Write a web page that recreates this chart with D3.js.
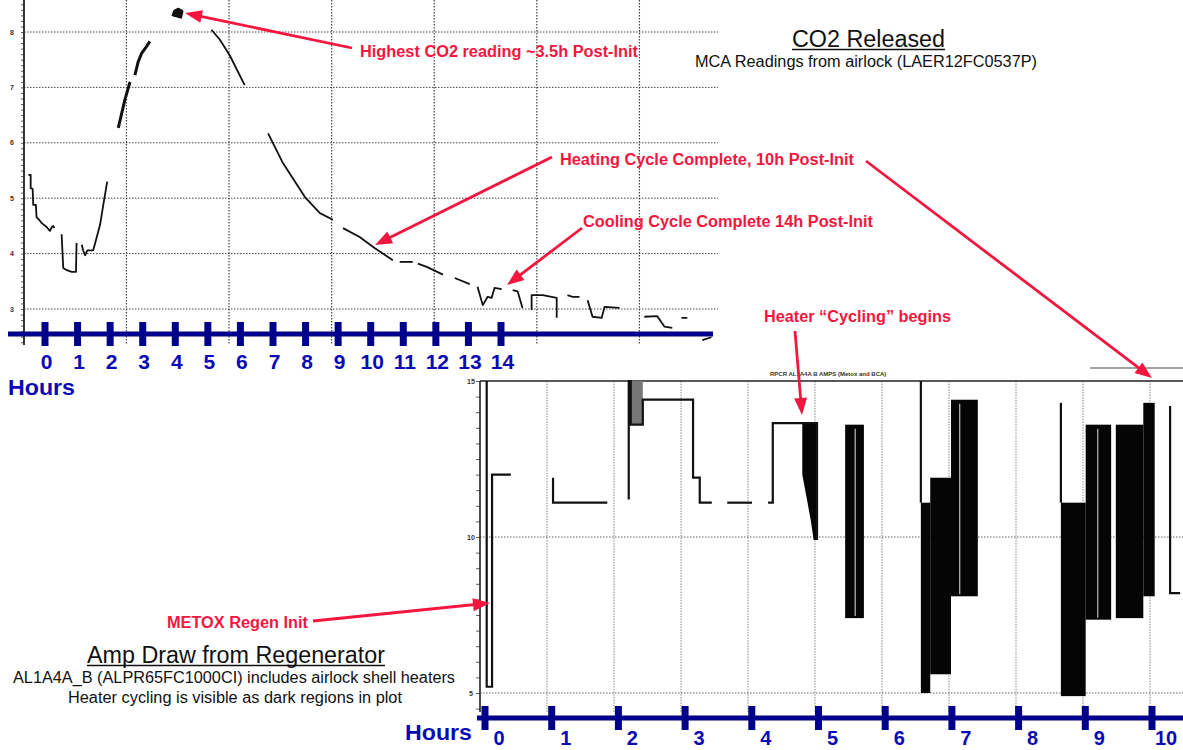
<!DOCTYPE html>
<html><head><meta charset="utf-8">
<script src="https://cdn.jsdelivr.net/npm/d3@7"></script>
<style>body{margin:0;background:#fff}svg{display:block;font-family:"Liberation Sans",Arial,sans-serif}</style>
</head><body><svg id="c" width="1183" height="750"></svg>
<script>
// ---------- DATA: CO2 (top chart), x = hours post-init, y = CO2 reading ----------
const co2Segments = [
  [[-0.51,5.42],[-0.44,5.42],[-0.44,5.18],[-0.38,5.17],[-0.36,4.88],[-0.28,4.88],[-0.26,4.66],[-0.18,4.61],[-0.10,4.55],[0.05,4.48],[0.15,4.41],[0.21,4.48],[0.25,4.50],[0.29,4.46]],
  [[0.51,4.35],[0.56,3.74],[0.67,3.70],[0.82,3.67],[0.95,3.67],[0.97,4.19]],
  [[1.13,4.16],[1.17,4.06],[1.23,3.97],[1.30,4.06],[1.48,4.06],[1.59,4.30],[1.69,4.52],[1.79,4.88],[1.91,5.30]],
  [[5.11,8.04],[5.37,7.86],[5.67,7.58],[6.13,7.04]],
  [[6.85,6.17],[7.31,5.63],[7.98,5.02],[8.44,4.73],[8.84,4.61]],
  [[9.15,4.46],[9.66,4.30],[10.12,4.10],[10.68,3.88]],
  [[10.89,3.85],[11.29,3.85]],
  [[11.45,3.82],[11.72,3.76],[12.22,3.62]],
  [[12.58,3.56],[13.04,3.45]],
  [[13.28,3.40],[13.44,3.07],[13.59,3.22],[13.71,3.20],[13.80,3.38],[14.02,3.36]],
  [[14.36,3.34],[14.51,3.32],[14.66,3.02]],
  [[14.94,2.98],[14.94,3.25],[15.28,3.25],[15.71,3.20],[15.71,2.84]],
  [[16.04,3.25],[16.20,3.22],[16.41,3.22]],
  [[16.66,3.16],[16.81,2.86],[17.09,2.84],[17.18,3.04],[17.64,3.02]],
  [[18.40,2.86],[18.80,2.87],[19.02,2.68],[19.26,2.66]],
  [[19.54,2.84],[19.72,2.84]],
  [[20.18,2.44],[20.46,2.49]]
];
const co2BoldSegments = [
  [[2.25,6.27],[2.45,6.77],[2.61,7.10]],
  [[2.76,7.22],[2.86,7.46],[2.97,7.62],[3.12,7.74],[3.22,7.83]]
];
const co2Peak = [[3.94,8.28],[3.99,8.37],[4.09,8.40],[4.19,8.37],[4.14,8.25]];
const co2ValueTicks = [3,4,5,6,7,8];
const co2GridHours = [2.5,5.65,8.8,11.95,15.1,18.25];
const co2HourLabels = [0,1,2,3,4,5,6,7,8,9,10,11,12,13,14];

// ---------- DATA: Amp draw (bottom chart), x = hours, y = amps ----------
const ampSegments = [
  [[0.10,15.0],[0.10,5.2],[0.18,5.2],[0.18,12.0],[0.46,12.0]],
  [[1.09,11.9],[1.09,11.1],[1.90,11.1]],
  [[2.22,11.2],[2.22,15.0],[2.25,15.0],[2.25,13.6],[2.43,13.6],[2.43,14.4],[3.18,14.4],[3.18,11.9],[3.28,11.9],[3.28,11.1],[3.46,11.1]],
  [[3.69,11.1],[4.06,11.1]],
  [[4.30,11.1],[4.37,11.1],[4.37,13.65],[5.03,13.65],[5.03,9.9]],
  [[6.58,15.0],[6.58,11.1]],
  [[8.67,14.3],[8.67,11.1]],
  [[10.30,14.2],[10.30,8.2],[10.45,8.2]]
];
const ampGreyBands = [[2.25,2.43,15.0,13.6]];
const ampCyclingEnvelope = [[4.81,13.65,12.0],[4.88,13.65,11.2],[4.94,13.65,10.5],[4.98,13.65,9.9],[5.03,13.65,9.9]];
const ampCyclingBands = [
  [5.45,5.73,13.6,7.4],
  [6.58,6.72,11.1,5.0],
  [6.72,7.03,11.9,5.6],
  [7.03,7.43,14.4,8.1],
  [8.67,9.04,11.1,4.9],
  [9.04,9.42,13.6,7.35],
  [9.49,9.90,13.6,7.4],
  [9.90,10.07,14.3,8.1]
];
const ampGapHours = [5.6,7.16,9.22];
const ampValueLabels = [5,10,15];
const ampGridValues = [5,10];
const ampGridHours = [1,2,3,4,5,6,7,8,9,10];
const ampHourLabels = [0,1,2,3,4,5,6,7,8,9,10];

// ---------- DRAW ----------
const svg = d3.select('#c');
const RED = '#f3173f', NAVY = '#00008a', BLUE = '#0a0ab4';

// scales
const xTop = d3.scaleLinear().domain([0,14]).range([45,501]);
const yTop = d3.scaleLinear().domain([3,8]).range([309,32]);
const xBot = d3.scaleLinear().domain([0,10]).range([480,1150]);
const yBot = d3.scaleLinear().domain([5,15]).range([693,381]);
const xBotAxis = d3.scaleLinear().domain([0,10]).range([485,1152]);

// ===== top chart =====
const gTop = svg.append('g');
gTop.selectAll('.hg').data(co2ValueTicks).join('line')
  .attr('x1',24).attr('x2',718).attr('y1',d=>yTop(d)).attr('y2',d=>yTop(d))
  .attr('stroke','#444').attr('stroke-width',1).attr('stroke-dasharray','1.5,1.5');
gTop.selectAll('.vg').data(co2GridHours).join('line')
  .attr('x1',d=>xTop(d)).attr('x2',d=>xTop(d)).attr('y1',0).attr('y2',344)
  .attr('stroke','#444').attr('stroke-width',1.2).attr('stroke-dasharray','1.5,1.5');
const yAxTop = d3.axisLeft(yTop).tickValues(d3.range(24,86).map(d=>d/10)).tickSize(3).tickFormat('');
const gya = gTop.append('g').attr('transform','translate(24,0)').call(yAxTop);
gya.select('.domain').remove();
gya.selectAll('line').attr('stroke','#333').attr('stroke-width',0.8);
gTop.append('line').attr('x1',24).attr('x2',24).attr('y1',yTop(8.6)).attr('y2',yTop(2.35)).attr('stroke','#222').attr('stroke-width',1.8);
gTop.selectAll('.yl').data(co2ValueTicks).join('text')
  .attr('x',12).attr('y',d=>yTop(d)+2.5).attr('text-anchor','middle')
  .attr('font-size',7).attr('font-weight','bold').attr('fill','#333').text(d=>d);
const lineTop = d3.line().x(d=>xTop(d[0])).y(d=>yTop(d[1]));
gTop.selectAll('.seg').data(co2Segments).join('path')
  .attr('d',lineTop).attr('fill','none').attr('stroke','#111').attr('stroke-width',1.8).attr('stroke-linejoin','round');
gTop.selectAll('.bseg').data(co2BoldSegments).join('path')
  .attr('d',lineTop).attr('fill','none').attr('stroke','#111').attr('stroke-width',3).attr('stroke-linejoin','round');
gTop.append('path').datum(co2Peak).attr('d',lineTop).attr('fill','#111').attr('stroke','#111').attr('stroke-width',4).attr('stroke-linejoin','round');

// blue hours axis (top)
const AY1 = 334;
gTop.append('line').attr('x1',8).attr('x2',713).attr('y1',AY1).attr('y2',AY1).attr('stroke',NAVY).attr('stroke-width',5);
gTop.selectAll('.bt').data(co2HourLabels).join('line')
  .attr('x1',d=>xTop(d)).attr('x2',d=>xTop(d)).attr('y1',AY1-12).attr('y2',AY1+12)
  .attr('stroke',NAVY).attr('stroke-width',7);
gTop.selectAll('.bl').data(co2HourLabels).join('text')
  .attr('x',d=>xTop(d)+1.5).attr('y',369).attr('text-anchor','middle')
  .attr('font-size',21).attr('font-weight','bold').attr('fill',BLUE).text(d=>d);
svg.append('text').attr('x',8).attr('y',395).attr('font-size',22).attr('font-weight','bold').attr('fill',BLUE)
  .attr('textLength',67).attr('lengthAdjust','spacingAndGlyphs').text('Hours');

// ===== bottom chart =====
const gBot = svg.append('g');
gBot.selectAll('.vg').data(ampGridHours).join('line')
  .attr('x1',d=>xBot(d)).attr('x2',d=>xBot(d)).attr('y1',381).attr('y2',712)
  .attr('stroke','#888').attr('stroke-width',1).attr('stroke-dasharray','1.5,1.2');
gBot.selectAll('.hg').data(ampGridValues).join('line')
  .attr('x1',480).attr('x2',1183).attr('y1',d=>yBot(d)).attr('y2',d=>yBot(d))
  .attr('stroke','#666').attr('stroke-width',1).attr('stroke-dasharray','1.5,1.5');
gBot.append('line').attr('x1',480).attr('x2',1183).attr('y1',yBot(15)).attr('y2',yBot(15)).attr('stroke','#222').attr('stroke-width',1.5);
gBot.append('line').attr('x1',1090).attr('x2',1183).attr('y1',368).attr('y2',368).attr('stroke','#444').attr('stroke-width',1);
gBot.append('text').attr('x',770).attr('y',376).attr('font-size',6).attr('font-weight','bold').attr('fill','#333')
  .text('RPCR AL1A4A B AMPS (Metox and BCA)');
const yAxBot = d3.axisLeft(yBot).tickValues(d3.range(9,31).map(d=>d/2)).tickSize(4).tickFormat('');
const gyb = gBot.append('g').attr('transform','translate(480,0)').call(yAxBot);
gyb.select('.domain').remove();
gyb.selectAll('line').attr('stroke','#333').attr('stroke-width',0.8);
gBot.append('line').attr('x1',480).attr('x2',480).attr('y1',yBot(15)).attr('y2',712).attr('stroke','#222').attr('stroke-width',1.6);
gBot.selectAll('.yl').data(ampValueLabels).join('text')
  .attr('x',471).attr('y',d=>yBot(d)+2.5).attr('text-anchor','middle')
  .attr('font-size',7).attr('font-weight','bold').attr('fill','#333').text(d=>d);
gBot.selectAll('.gb').data(ampGreyBands).join('rect')
  .attr('x',d=>xBot(d[0])).attr('width',d=>xBot(d[1])-xBot(d[0]))
  .attr('y',d=>yBot(d[2])).attr('height',d=>yBot(d[3])-yBot(d[2])).attr('fill','#777');
gBot.selectAll('.cb').data(ampCyclingBands).join('rect')
  .attr('x',d=>xBot(d[0])).attr('width',d=>xBot(d[1])-xBot(d[0]))
  .attr('y',d=>yBot(d[2])).attr('height',d=>yBot(d[3])-yBot(d[2])).attr('fill','#050505');
gBot.selectAll('.gap').data(ampGapHours).join('line')
  .attr('x1',d=>xBot(d)).attr('x2',d=>xBot(d))
  .attr('y1',d=>{const b=ampCyclingBands.find(r=>d>=r[0]&&d<=r[1]);return yBot(b[2])+4;})
  .attr('y2',d=>{const b=ampCyclingBands.find(r=>d>=r[0]&&d<=r[1]);return yBot(b[3])-2;})
  .attr('stroke','#bbb').attr('stroke-width',1.2);
const areaBot = d3.area().x(d=>xBot(d[0])).y0(d=>yBot(d[2])).y1(d=>yBot(d[1]));
gBot.append('path').datum(ampCyclingEnvelope).attr('d',areaBot).attr('fill','#050505');
const lineBot = d3.line().x(d=>xBot(d[0])).y(d=>yBot(d[1]));
gBot.selectAll('.seg').data(ampSegments).join('path')
  .attr('d',lineBot).attr('fill','none').attr('stroke','#111').attr('stroke-width',2.2).attr('stroke-linejoin','miter');

// blue hours axis (bottom)
const AY2 = 718;
gBot.append('line').attr('x1',477).attr('x2',1183).attr('y1',AY2).attr('y2',AY2).attr('stroke',NAVY).attr('stroke-width',5);
gBot.selectAll('.bt').data(ampHourLabels).join('line')
  .attr('x1',d=>xBotAxis(d)).attr('x2',d=>xBotAxis(d)).attr('y1',AY2-12).attr('y2',AY2+12)
  .attr('stroke',NAVY).attr('stroke-width',7);
gBot.selectAll('.bl').data(ampHourLabels).join('text')
  .attr('x',d=>xBotAxis(d)+14).attr('y',745).attr('text-anchor','middle')
  .attr('font-size',20).attr('font-weight','bold').attr('fill',BLUE).text(d=>d);
svg.append('text').attr('x',405).attr('y',740).attr('font-size',22).attr('font-weight','bold').attr('fill',BLUE)
  .attr('textLength',67).attr('lengthAdjust','spacingAndGlyphs').text('Hours');

// ===== titles =====
function title(x,y,w,size,txt,underline){
  svg.append('text').attr('x',x).attr('y',y).attr('font-size',size).attr('fill','#111')
    .attr('textLength',w).attr('lengthAdjust','spacingAndGlyphs').text(txt);
  if(underline) svg.append('line').attr('x1',x).attr('x2',x+w).attr('y1',y+2.5).attr('y2',y+2.5).attr('stroke','#111').attr('stroke-width',1.5);
}
title(792,47,153,23,'CO2 Released',true);
title(695,67,342,16,'MCA Readings from airlock (LAER12FC0537P)');
title(87,663,298,23,'Amp Draw from Regenerator',true);
title(13,683,442,16,'AL1A4A_B (ALPR65FC1000CI) includes airlock shell heaters');
title(68,703,334,16,'Heater cycling is visible as dark regions in plot');

// ===== annotations =====
function arrow(x1,y1,x2,y2){
  const L=17,W=6.5,dx=x2-x1,dy=y2-y1,len=Math.hypot(dx,dy),ux=dx/len,uy=dy/len;
  const bx=x2-ux*L,by=y2-uy*L;
  svg.append('line').attr('x1',x1).attr('y1',y1).attr('x2',bx+ux*2).attr('y2',by+uy*2).attr('stroke',RED).attr('stroke-width',2.8);
  svg.append('polygon').attr('points',[[x2,y2],[bx-uy*W,by+ux*W],[bx+uy*W,by-ux*W]].map(p=>p.join(',')).join(' ')).attr('fill',RED);
}
function note(x,y,w,txt){
  svg.append('text').attr('x',x).attr('y',y).attr('font-size',16).attr('font-weight','bold').attr('fill',RED)
    .attr('textLength',w).attr('lengthAdjust','spacingAndGlyphs').text(txt);
}
note(360,57,278,'Highest CO2 reading ~3.5h Post-Init');
arrow(352,48,185,13);
note(560,165,294,'Heating Cycle Complete, 10h Post-Init');
arrow(552,157,375,245);
arrow(866,161,1152,378);
note(583,227,290,'Cooling Cycle Complete 14h Post-Init');
arrow(582,228,507,285);
note(764,322,187,'Heater \u201CCycling\u201D begins');
arrow(795,331,802,415);
note(167,628,141,'METOX Regen Init');
arrow(313,621,490,603);
</script></body></html>
